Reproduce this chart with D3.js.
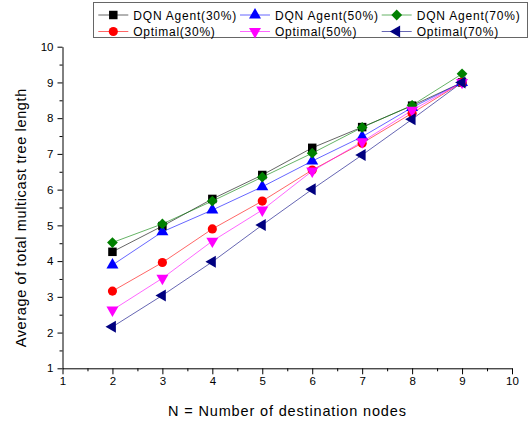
<!DOCTYPE html>
<html>
<head>
<meta charset="utf-8">
<script src="https://cdn.jsdelivr.net/npm/d3@7"></script>
<style>
body { margin:0; background:#fff; }
svg { display:block; font-family:"Liberation Sans", Arial, sans-serif; }
</style>
</head>
<body>
<div id="figure"></div>
<script>
// data
var nodes = [2, 3, 4, 5, 6, 7, 8, 9];
var dqn30 = [4.26, 4.98, 5.74, 6.41, 7.17, 7.75, 8.35, 9.0];
var dqn50 = [3.89, 4.82, 5.43, 6.08, 6.80, 7.48, 8.30, 9.0];
var dqn70 = [4.52, 5.04, 5.68, 6.35, 7.02, 7.74, 8.36, 9.24];
var opt30 = [3.16, 3.96, 4.90, 5.68, 6.55, 7.30, 8.14, 9.0];
var opt50 = [2.63, 3.52, 4.56, 5.43, 6.52, 7.34, 8.22, 9.0];
var opt70 = [2.16, 3.04, 3.98, 5.01, 6.01, 6.97, 7.97, 9.0];
var xTicks = [1, 2, 3, 4, 5, 6, 7, 8, 9, 10];
var yTicks = [1, 2, 3, 4, 5, 6, 7, 8, 9, 10];

var series = [
	{label:"DQN Agent(30%)", vals:dqn30, color:"#000000", sym:"square"},
	{label:"DQN Agent(50%)", vals:dqn50, color:"#0000ff", sym:"up"},
	{label:"DQN Agent(70%)", vals:dqn70, color:"#008000", sym:"diamond"},
	{label:"Optimal(30%)", vals:opt30, color:"#ff0000", sym:"circle"},
	{label:"Optimal(50%)", vals:opt50, color:"#ff00ff", sym:"down"},
	{label:"Optimal(70%)", vals:opt70, color:"#000080", sym:"left"}
];

var w = 530, h = 424;
var svg = d3.select("#figure").append("svg").attr("width", w).attr("height", h);

var x = d3.scaleLinear().domain([1, 10]).range([62.5, 512]);
var y = d3.scaleLinear().domain([1, 10]).range([368.3, 46.7]);

// the reference font renders wider, stretch the spacing a bit
function widen(sel, f) {
	sel.each(function() {
		var t = d3.select(this);
		t.attr("textLength", this.getComputedTextLength() * f).attr("lengthAdjust", "spacing");
	});
}

function symPath(s) {
	if (s == "square") return d3.symbol(d3.symbolSquare, 72)();
	if (s == "circle") return d3.symbol(d3.symbolCircle, 66)();
	if (s == "diamond") return d3.symbol(d3.symbolSquare, 58)();
	return d3.symbol(d3.symbolTriangle, 62)();
}
function symRot(s) {
	if (s == "diamond") return 45;
	if (s == "down") return 180;
	if (s == "left") return -90;
	return 0;
}

// minor ticks
svg.append("g").attr("transform", "translate(0,368.3)")
	.call(d3.axisBottom(x).tickValues(d3.range(1.5, 10, 1)).tickSize(3).tickFormat(""))
	.call(function(g) { g.select(".domain").remove(); });
svg.append("g").attr("transform", "translate(62.5,0)")
	.call(d3.axisLeft(y).tickValues(d3.range(1.5, 10, 1)).tickSize(3).tickFormat(""))
	.call(function(g) { g.select(".domain").remove(); });

// main axes
var xAxis = svg.append("g").attr("transform", "translate(0,368.3)")
	.call(d3.axisBottom(x).tickValues(xTicks).tickSize(6).tickSizeOuter(0).tickPadding(3));
var yAxis = svg.append("g").attr("transform", "translate(62.5,0)")
	.call(d3.axisLeft(y).tickValues(yTicks).tickSize(5).tickSizeOuter(0).tickPadding(4));
svg.selectAll(".tick text").attr("font-size", "11.5px")
	.attr("font-family", "Liberation Sans, Arial, sans-serif").attr("fill", "#000");
svg.selectAll(".domain, .tick line").attr("stroke", "#000");

// axis titles
svg.append("text").text("N = Number of destination nodes")
	.attr("x", 287).attr("y", 416)
	.attr("text-anchor", "middle").attr("font-size", "14.5px")
	.call(widen, 1.12);
svg.append("text").text("Average of total multicast tree length")
	.attr("transform", "translate(26,218)rotate(-90)")
	.attr("text-anchor", "middle").attr("font-size", "14.5px")
	.call(widen, 1.1);

// lines
var line = d3.line().x(function(d, i) { return x(nodes[i]); }).y(function(d) { return y(d); });

svg.selectAll("path.ser")
	.data(series)
	.enter()
	.append("path")
	.attr("class", "ser")
	.attr("d", function(d) { return line(d.vals); })
	.attr("fill", "none")
	.attr("stroke", function(d) { return d.color; })
	.attr("stroke-opacity", 0.6)
	.attr("stroke-width", 1);

// markers
series.forEach(function(s) {
	svg.selectAll("path.m_" + s.sym)
		.data(s.vals)
		.enter()
		.append("path")
		.attr("class", "m_" + s.sym)
		.attr("d", symPath(s.sym))
		.attr("transform", function(d, i) {
			return "translate(" + x(nodes[i]) + "," + y(d) + ")rotate(" + symRot(s.sym) + ")";
		})
		.attr("fill", s.color);
});

// legend
var leg = svg.append("g");
leg.append("rect")
	.attr("x", 93.5).attr("y", 2.5)
	.attr("width", 434).attr("height", 35)
	.attr("fill", "#fff").attr("stroke", "#666").attr("stroke-width", 1);

var colX = [113.3, 255, 396.7];
var rowY = [15, 31.5];

var items = leg.selectAll("g.legitem")
	.data(series)
	.enter()
	.append("g")
	.attr("class", "legitem")
	.attr("transform", function(d, i) {
		return "translate(" + colX[i % 3] + "," + rowY[Math.floor(i / 3)] + ")";
	});
items.append("line")
	.attr("x1", -15).attr("x2", 15)
	.attr("stroke", function(d) { return d.color; })
	.attr("stroke-opacity", 0.6);
items.append("path")
	.attr("d", function(d) { return symPath(d.sym); })
	.attr("transform", function(d) { return "rotate(" + symRot(d.sym) + ")"; })
	.attr("fill", function(d) { return d.color; });
var legText = items.append("text")
	.text(function(d) { return d.label; })
	.attr("x", 20).attr("y", 4.5)
	.attr("font-size", "12px");
// "DQN Agent(30%)" is about 103px wide in the reference
var legFactor = 103 / legText.node().getComputedTextLength();
legText.call(widen, legFactor);
</script>
</body>
</html>
